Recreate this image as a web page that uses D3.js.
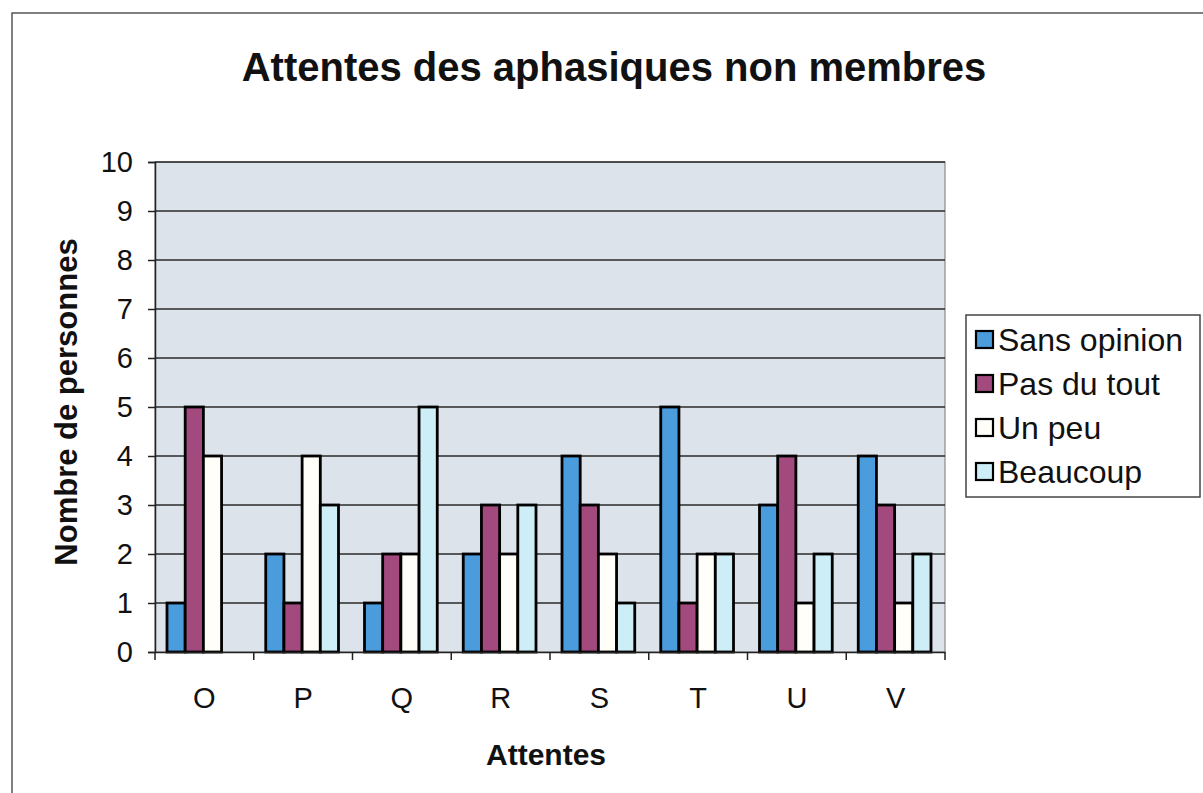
<!DOCTYPE html>
<html>
<head>
<meta charset="utf-8">
<script src="https://cdn.jsdelivr.net/npm/d3@7"></script>
<style>
  body { margin: 0; background: #fff; }
  text { font-family: "Liberation Sans", Arial, sans-serif; fill: #111; }
</style>
</head>
<body>
<div id="chart"></div>
<script>
// data
const categories = ["O", "P", "Q", "R", "S", "T", "U", "V"];
const seriesNames = ["Sans opinion", "Pas du tout", "Un peu", "Beaucoup"];
const sansOpinion = [1, 2, 1, 2, 4, 5, 3, 4];
const pasDuTout   = [5, 1, 2, 3, 3, 1, 4, 3];
const unPeu       = [4, 4, 2, 2, 2, 2, 1, 1];
const beaucoup    = [0, 3, 5, 3, 1, 2, 2, 2];
const yTicks = [0, 1, 2, 3, 4, 5, 6, 7, 8, 9, 10];
const colors = ["#4b9cdc", "#a24a7e", "#fffef8", "#cdeef6"];

const seriesValues = [sansOpinion, pasDuTout, unPeu, beaucoup];

const W = 1203, H = 793;
const margin = {left: 155, right: 258, top: 162, bottom: 141};
const width = W - margin.left - margin.right;
const height = H - margin.top - margin.bottom;

const svg = d3.select("#chart").append("svg")
    .attr("width", W).attr("height", H);

// outer frame
svg.append("rect")
    .attr("x", 12).attr("y", 13)
    .attr("width", W + 10).attr("height", H + 10)
    .attr("fill", "none").attr("stroke", "#555").attr("stroke-width", 1.5);

svg.append("text")
    .attr("x", 614).attr("y", 81)
    .attr("text-anchor", "middle")
    .attr("font-size", 40).attr("font-weight", "bold")
    .text("Attentes des aphasiques non membres");

const g = svg.append("g")
    .attr("transform", `translate(${margin.left}, ${margin.top})`);

const x = d3.scaleBand().domain(categories).range([0, width]).paddingInner(0).paddingOuter(0);
const xs = d3.scaleBand().domain(seriesNames).range([12, x.bandwidth() - 14]).padding(0);
const y = d3.scaleLinear().domain([0, 10]).range([height, 0]);

g.append("rect")
    .attr("width", width).attr("height", height)
    .attr("fill", "#dde3ea").attr("stroke", "#777").attr("stroke-width", 1);

g.selectAll(".grid").data(yTicks.filter(d => d > 0)).join("line")
    .attr("x1", 0).attr("x2", width)
    .attr("y1", d => y(d)).attr("y2", d => y(d))
    .attr("stroke", "#2a2a2a").attr("stroke-width", 1.4);

const rows = categories.map((c, i) => ({cat: c, vals: seriesValues.map(s => s[i])}));

const grp = g.selectAll(".grp").data(rows).join("g")
    .attr("transform", d => `translate(${x(d.cat)}, 0)`);

grp.selectAll("rect").data(d => d.vals.map((v, j) => ({name: seriesNames[j], v, j})))
    .join("rect")
    .attr("x", d => xs(d.name))
    .attr("width", xs.bandwidth())
    .attr("y", d => y(d.v))
    .attr("height", d => height - y(d.v))
    .attr("fill", d => colors[d.j])
    .attr("stroke", "#000").attr("stroke-width", 2.8);

// axes
const yAxis = g.append("g")
    .call(d3.axisLeft(y).tickValues(yTicks).tickSize(7).tickPadding(15).tickFormat(d3.format("d")));
const xAxis = g.append("g")
    .attr("transform", `translate(0, ${height})`)
    .call(d3.axisBottom(x).tickSize(0).tickPadding(35));

g.append("g").attr("transform", `translate(0, ${height})`)
    .selectAll("line").data(d3.range(categories.length + 1)).join("line")
    .attr("x1", d => d * x.step()).attr("x2", d => d * x.step())
    .attr("y1", 0).attr("y2", 8)
    .attr("stroke", "#222").attr("stroke-width", 1.5);

[yAxis, xAxis].forEach(a => {
    a.select(".domain").attr("stroke", "#222").attr("stroke-width", 1.5);
    a.selectAll(".tick line").attr("stroke", "#222").attr("stroke-width", 1.5);
    a.selectAll("text").attr("font-size", 29).attr("fill", "#111")
        .attr("font-family", "'Liberation Sans', Arial, sans-serif");
});

svg.append("text")
    .attr("transform", `translate(77, 402) rotate(-90)`)
    .attr("text-anchor", "middle")
    .attr("font-size", 31).attr("font-weight", "bold")
    .text("Nombre de personnes");

svg.append("text")
    .attr("x", 546).attr("y", 765)
    .attr("text-anchor", "middle")
    .attr("font-size", 30).attr("font-weight", "bold")
    .text("Attentes");

// legend
const leg = svg.append("g").attr("transform", "translate(966, 315)");
leg.append("rect")
    .attr("width", 234).attr("height", 182)
    .attr("fill", "#fff").attr("stroke", "#444").attr("stroke-width", 1.5);
const li = leg.selectAll(".li").data(seriesNames).join("g")
    .attr("transform", (d, i) => `translate(10, ${25 + i * 44})`);
li.append("rect")
    .attr("x", 0).attr("y", -9).attr("width", 17).attr("height", 17)
    .attr("fill", (d, i) => colors[i]).attr("stroke", "#000").attr("stroke-width", 2.2);
li.append("text")
    .attr("x", 22).attr("y", 11)
    .attr("font-size", 32)
    .text(d => d);
</script>
</body>
</html>
